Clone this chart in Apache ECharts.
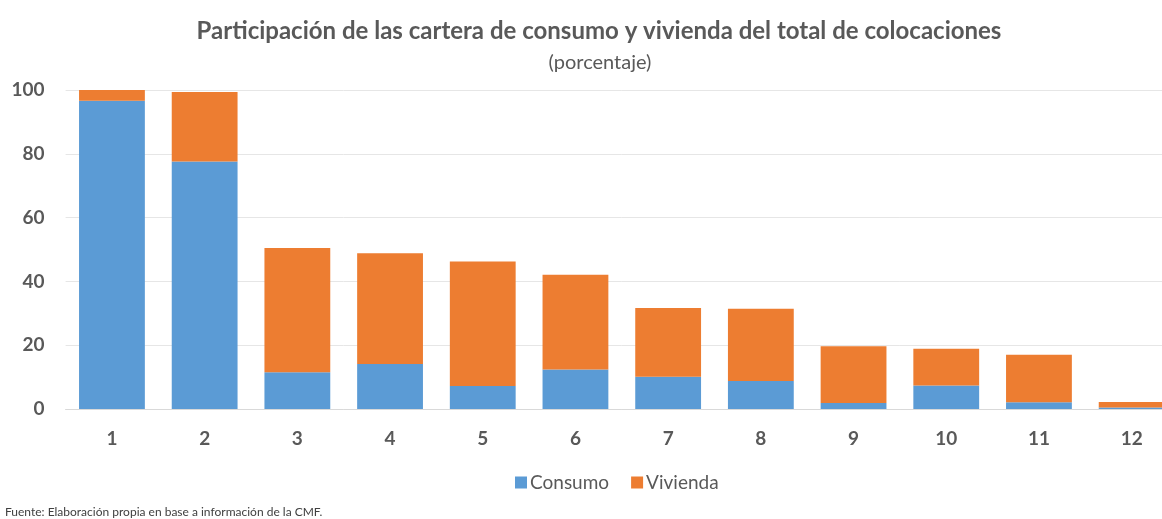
<!DOCTYPE html>
<html>
<head>
<meta charset="utf-8">
<script src="https://cdn.jsdelivr.net/npm/echarts@6/dist/echarts.min.js"></script>
<style>
html,body{margin:0;padding:0;background:#fff;overflow:hidden;width:1162px;height:519px;}
#c{width:1178px;height:519px;}
</style>
</head>
<body>
<div id="c"></div>
<script>
var categories = ['1','2','3','4','5','6','7','8','9','10','11','12'];
var consumo = [96.6, 77.6, 11.5, 14.1, 7.2, 12.4, 10.1, 8.8, 1.9, 7.4, 2.1, 0.5];
var vivienda = [3.4, 21.8, 39.0, 34.7, 39.0, 29.7, 21.6, 22.6, 17.8, 11.5, 14.9, 1.7];
var yTicks = [0, 20, 40, 60, 80, 100];

var FONT = 'Lato';
var chart = echarts.init(document.getElementById('c'));
chart.setOption({
  animation: false,
  color: ['#5B9BD5', '#ED7D31'],
  title: [{
    text: 'Participación de las cartera de consumo y vivienda del total de colocaciones',
    left: 594, top: 14, textAlign: 'center',
    textStyle: {fontFamily: FONT, fontSize: 24, fontWeight: 'bold', color: '#595959'}
  }, {
    text: '(porcentaje)',
    left: 595, top: 48, textAlign: 'center',
    textStyle: {fontFamily: FONT, fontSize: 20, fontWeight: 'normal', color: '#595959'}
  }, {
    text: 'Fuente: Elaboración propia en base a información de la CMF.',
    left: 0, top: 501,
    textStyle: {fontFamily: FONT, fontSize: 12, fontWeight: 'normal', color: '#404040'}
  }],
  legend: {
    data: ['Consumo', 'Vivienda'],
    left: 510, top: 468,
    icon: 'rect', itemWidth: 12, itemHeight: 12, itemGap: 22,
    textStyle: {fontFamily: FONT, fontSize: 19, color: '#595959', padding: [0, 0, 0, -2]}
  },
  grid: {left: 65.6, right: 0, top: 90, bottom: 110, containLabel: false},
  xAxis: {
    type: 'category', data: categories,
    axisLine: {lineStyle: {color: '#d9d9d9'}},
    axisTick: {show: false},
    axisLabel: {fontFamily: FONT, fontSize: 19, fontWeight: 'bold', color: '#595959', margin: 20}
  },
  yAxis: {
    type: 'value', min: 0, max: 100, interval: 20,
    axisLine: {show: false}, axisTick: {show: false},
    splitLine: {lineStyle: {color: '#e6e6e6'}},
    axisLabel: {fontFamily: FONT, fontSize: 19, fontWeight: 'bold', color: '#595959', margin: 21,
      formatter: function (v) { return yTicks.indexOf(v) >= 0 ? String(v) : ''; }}
  },
  series: [{
    name: 'Consumo', type: 'bar', stack: 't', data: consumo, barCategoryGap: '29%'
  }, {
    name: 'Vivienda', type: 'bar', stack: 't', data: vivienda, barCategoryGap: '29%'
  }]
});
</script>
</body>
</html>
